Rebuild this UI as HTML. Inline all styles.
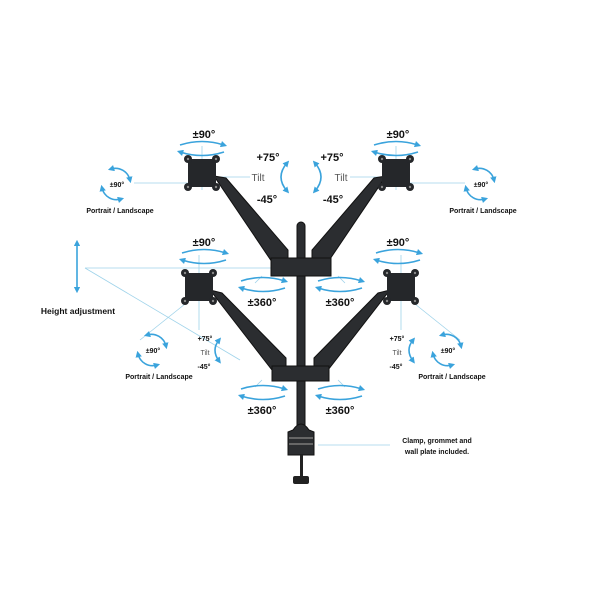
<!DOCTYPE html>
<html><head><style>
html,body{margin:0;padding:0;background:#fff;}
svg{display:block;}
text{font-family:"Liberation Sans",sans-serif;fill:#111;}
.b{font-weight:bold;}
.l{stroke:#9fd3ea;stroke-width:0.8;fill:none;}
.a{stroke:#3aa3dc;stroke-width:1.6;fill:none;}
.arm{fill:#2b2d30;stroke:#111;stroke-width:1;}
</style></head><body>
<svg width="600" height="600" viewBox="0 0 600 600">
<defs>
<marker id="m" viewBox="0 0 10 10" refX="5" refY="5" markerWidth="4" markerHeight="4" orient="auto-start-reverse"><path d="M0,0L10,5L0,10z" fill="#3aa3dc"/></marker>
<g id="rot">
<path class="a" d="M-22,-3 Q0,-10 22,-3" marker-end="url(#m)"/>
<path class="a" d="M22,4 Q0,11 -22,4" marker-end="url(#m)"/>
</g>
<g id="circ">
<path class="a" d="M-5,-15 A15,15 0 0 1 14,-4" marker-start="url(#m)" marker-end="url(#m)"/>
<path class="a" d="M5,15 A15,15 0 0 1 -14,4" marker-start="url(#m)" marker-end="url(#m)"/>
</g>
<g id="plate">
<rect x="-14" y="-14" width="28" height="28" fill="#25272a"/>
<circle cx="-14" cy="-14" r="4" fill="#25272a"/><circle cx="14" cy="-14" r="4" fill="#25272a"/>
<circle cx="-14" cy="14" r="4" fill="#25272a"/><circle cx="14" cy="14" r="4" fill="#25272a"/>
<circle cx="-14" cy="-14" r="1.2" fill="#888"/><circle cx="14" cy="-14" r="1.2" fill="#888"/>
<circle cx="-14" cy="14" r="1.2" fill="#888"/><circle cx="14" cy="14" r="1.2" fill="#888"/>
</g>
</defs>

<line class="l" x1="134" y1="183" x2="188" y2="183"/>
<line class="l" x1="216" y1="177" x2="250" y2="177"/>
<line class="l" x1="350" y1="177" x2="384" y2="177"/>
<line class="l" x1="410" y1="183" x2="465" y2="183"/>
<line class="l" x1="202" y1="146" x2="202" y2="190"/>
<line class="l" x1="396" y1="146" x2="396" y2="190"/>
<line class="l" x1="85" y1="268" x2="300" y2="268"/>
<line class="l" x1="85" y1="268" x2="240" y2="360"/>
<line class="l" x1="199" y1="255" x2="199" y2="330"/>
<line class="l" x1="401" y1="255" x2="401" y2="330"/>
<line class="l" x1="190" y1="300" x2="140" y2="340"/>
<line class="l" x1="410" y1="300" x2="460" y2="340"/>
<line class="l" x1="318" y1="445" x2="390" y2="445"/>
<line class="l" x1="262" y1="276" x2="255" y2="283"/>
<line class="l" x1="338" y1="276" x2="345" y2="283"/>
<line class="l" x1="262" y1="380" x2="255" y2="387"/>
<line class="l" x1="338" y1="380" x2="345" y2="387"/>

<line class="a" x1="77" y1="243" x2="77" y2="290" marker-start="url(#m)" marker-end="url(#m)"/>

<rect class="arm" x="297" y="222" width="8" height="210" rx="4"/>
<path class="arm" d="M214,176 L226,178 L288,250 L288,262 L272,262 Z"/>
<path class="arm" d="M386,176 L374,178 L312,250 L312,262 L328,262 Z"/>
<path class="arm" d="M210,290 L222,293 L286,358 L286,370 L272,370 Z"/>
<path class="arm" d="M390,290 L378,293 L314,358 L314,370 L328,370 Z"/>
<rect class="arm" x="271" y="258" width="60" height="18"/>
<rect class="arm" x="272" y="366" width="57" height="15"/>
<path class="arm" d="M293,430 Q301,418 309,430 L314,432 L314,455 L288,455 L288,432 Z"/>
<rect x="289" y="437" width="24" height="2" fill="#666"/>
<rect x="289" y="443" width="24" height="2" fill="#666"/>
<rect x="300" y="455" width="3" height="22" fill="#222"/>
<rect x="293" y="476" width="16" height="8" rx="2" fill="#222"/>

<use href="#plate" x="202" y="173"/>
<use href="#plate" x="396" y="173"/>
<use href="#plate" x="199" y="287"/>
<use href="#plate" x="401" y="287"/>

<use href="#rot" x="202" y="148"/>
<use href="#rot" x="396" y="148"/>
<use href="#rot" x="204" y="256"/>
<use href="#rot" x="398" y="256"/>
<use href="#rot" x="263" y="284"/>
<use href="#rot" x="340" y="284"/>
<use href="#rot" x="263" y="392"/>
<use href="#rot" x="340" y="392"/>

<use href="#circ" x="116" y="184"/>
<use href="#circ" x="480" y="184"/>
<use href="#circ" x="152" y="350"/>
<use href="#circ" x="447" y="350"/>

<path class="a" d="M287,163 Q275,177 287,191" marker-start="url(#m)" marker-end="url(#m)"/>
<path class="a" d="M315,163 Q327,177 315,191" marker-start="url(#m)" marker-end="url(#m)"/>
<path class="a" d="M219,340 Q211,350 219,361" marker-start="url(#m)" marker-end="url(#m)"/>
<path class="a" d="M413,340 Q405,350 413,361" marker-start="url(#m)" marker-end="url(#m)"/>

<g class="b" font-size="11" text-anchor="middle">
<text x="204" y="138">±90°</text>
<text x="398" y="138">±90°</text>
<text x="204" y="246">±90°</text>
<text x="398" y="246">±90°</text>
<text x="268" y="161">+75°</text>
<text x="267" y="203">-45°</text>
<text x="332" y="161">+75°</text>
<text x="333" y="203">-45°</text>
<text x="262" y="306">±360°</text>
<text x="340" y="306">±360°</text>
<text x="262" y="414">±360°</text>
<text x="340" y="414">±360°</text>
</g>
<g font-size="10" text-anchor="middle">
<text x="258" y="181" style="fill:#555">Tilt</text>
<text x="341" y="181" style="fill:#555">Tilt</text>
</g>
<g class="b" font-size="7" text-anchor="middle">
<text x="117" y="187">±90°</text>
<text x="481" y="187">±90°</text>
<text x="153" y="353">±90°</text>
<text x="448" y="353">±90°</text>
<text x="205" y="341">+75°</text>
<text x="204" y="369">-45°</text>
<text x="397" y="341">+75°</text>
<text x="396" y="369">-45°</text>
<text x="120" y="213">Portrait / Landscape</text>
<text x="483" y="213">Portrait / Landscape</text>
<text x="159" y="379">Portrait / Landscape</text>
<text x="452" y="379">Portrait / Landscape</text>
<text x="437" y="443">Clamp, grommet and</text>
<text x="437" y="454">wall plate included.</text>
</g>
<text x="205" y="355" font-size="7" text-anchor="middle" style="fill:#555">Tilt</text>
<text x="397" y="355" font-size="7" text-anchor="middle" style="fill:#555">Tilt</text>
<text x="78" y="314" font-size="8.5" class="b" text-anchor="middle">Height adjustment</text>
</svg>
</body></html>
